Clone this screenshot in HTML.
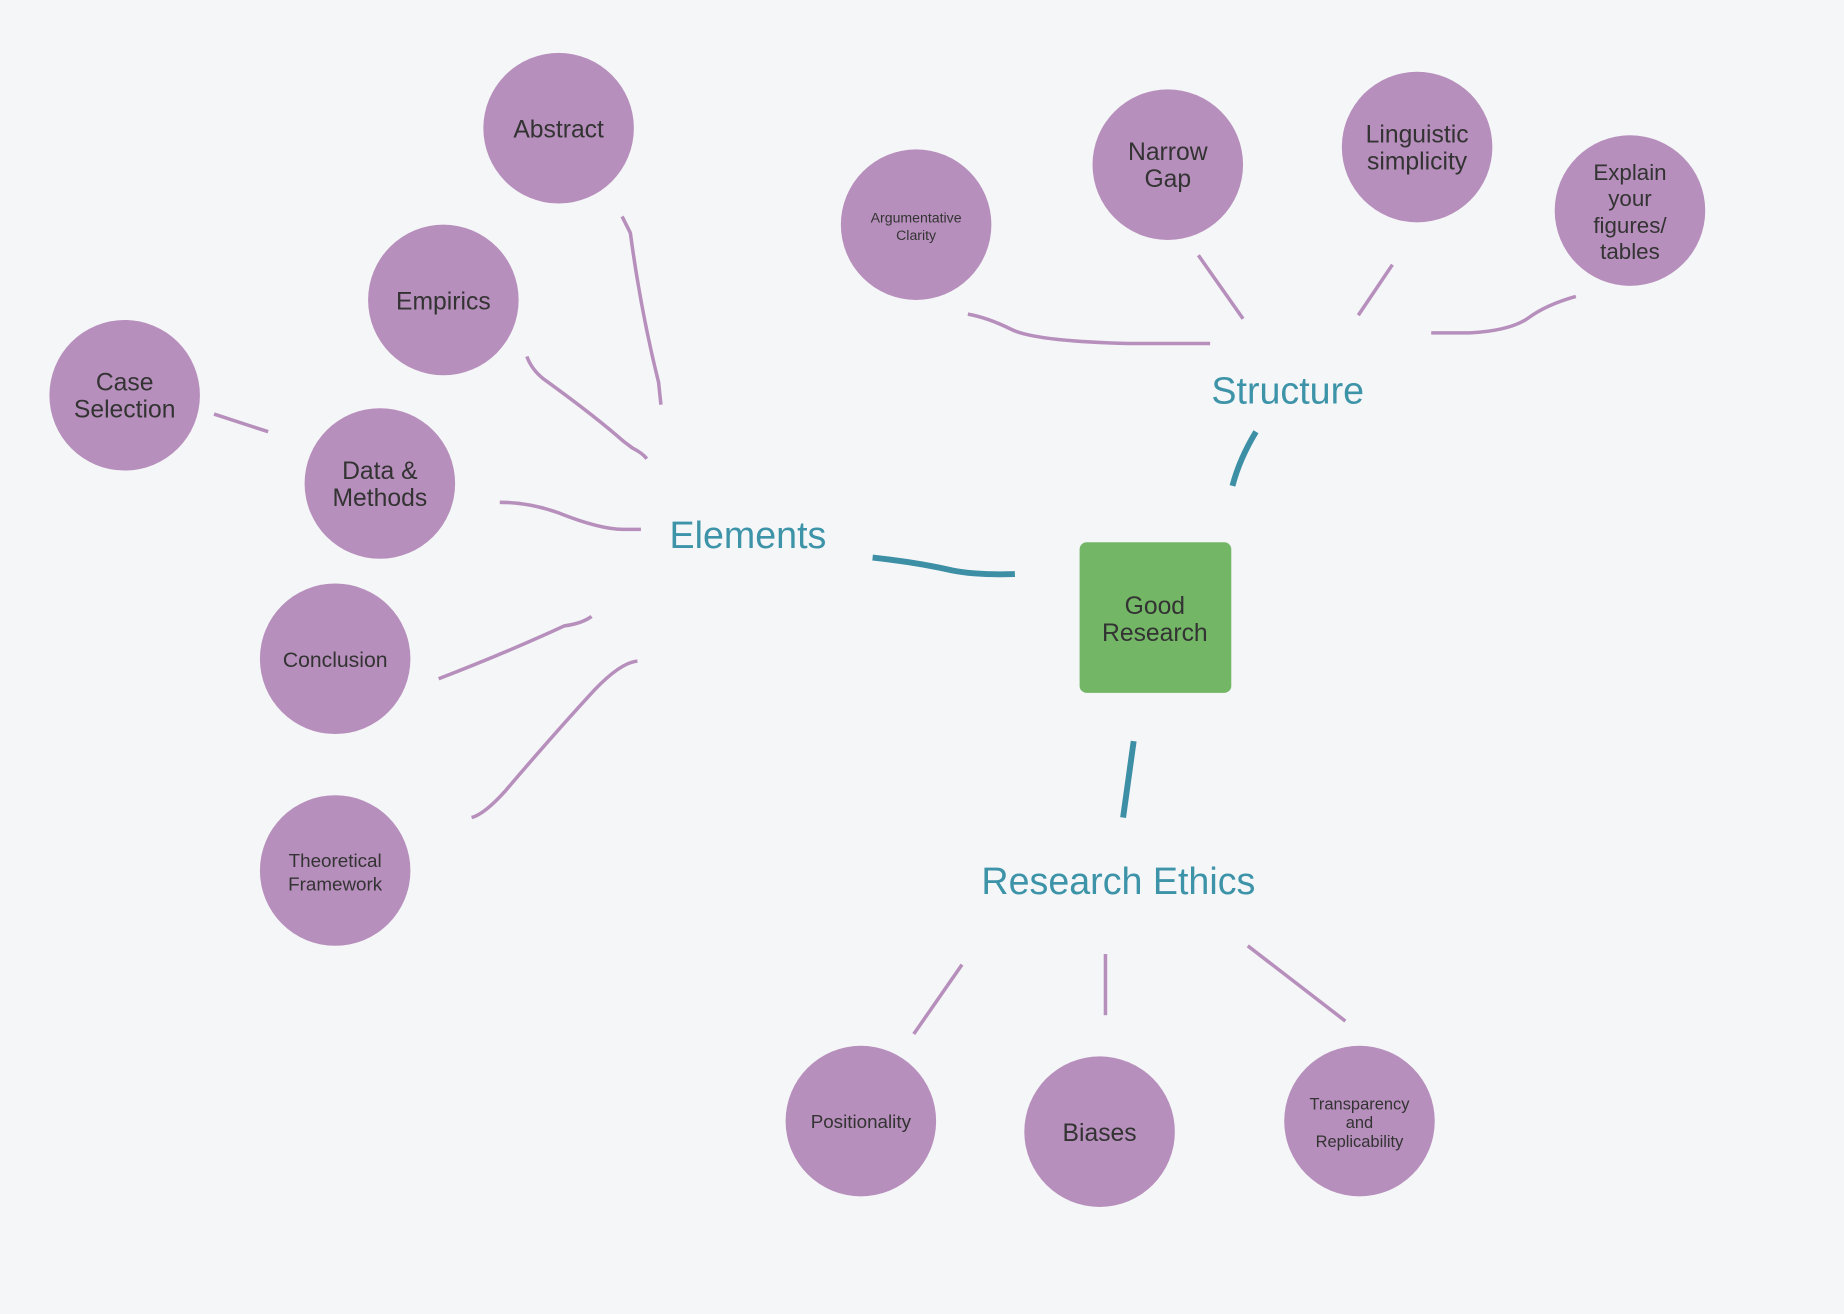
<!DOCTYPE html>
<html><head><style>
html,body{margin:0;padding:0;background:#f5f6f8;}
svg{display:block}
.c{fill:#b78fbc}
.t{font-family:"Liberation Sans",sans-serif;fill:#333;text-anchor:middle}
.h{font-family:"Liberation Sans",sans-serif;fill:#3d93a8;text-anchor:middle;font-size:32px}
.l{fill:none;stroke:#b78fbc;stroke-width:3;stroke-linecap:butt}
.b{fill:none;stroke:#3d8fa5;stroke-width:5}
</style></head><body>
<svg width="1844" height="1314" viewBox="0 0 1568 1117" preserveAspectRatio="none">
<rect width="1568" height="1117" fill="#f5f6f8"/>
<!-- connectors -->
<path class="l" d="M529 184 L536 198 Q545 265 560 325 L562 344"/>
<path class="l" d="M448 303 Q452 314 462 322 Q505 353 530 375 L538 381 Q546 385 550 390"/>
<path class="l" d="M182 352 L228 367"/>
<path class="l" d="M425 427 Q450 427 475 436 Q510 450 530 450 L545 450"/>
<path class="l" d="M373 577 Q430 555 480 532 Q495 530 503 524"/>
<path class="l" d="M401 695 Q412 692 430 672 Q470 625 505 587 Q528 563 542 562"/>
<path class="l" d="M823 267 Q840 270 860 280 Q880 290 960 292 L1029 292"/>
<path class="l" d="M1019 217 L1057 271"/>
<path class="l" d="M1184 225 L1155 268"/>
<path class="l" d="M1217 283 L1250 283 Q1285 281 1300 270 Q1315 259 1340 252"/>
<path class="l" d="M818 820 L777 879"/>
<path class="l" d="M940 811 L940 863"/>
<path class="l" d="M1061 804 L1144 868"/>
<path class="b" d="M742 474 Q780 478 810 485 Q830 489 863 488"/>
<path class="b" d="M1048 413 Q1054 390 1068 367"/>
<path class="b" d="M964 630 L955 695"/>
<!-- center -->
<rect x="918" y="461" width="129" height="128" rx="6" fill="#73b666"/>
<text class="t" font-size="21" x="982" y="522">Good</text>
<text class="t" font-size="21" x="982" y="545">Research</text>
<!-- headings -->
<text class="h" x="636" y="466">Elements</text>
<text class="h" x="1095" y="343">Structure</text>
<text class="h" x="951" y="760">Research Ethics</text>
<!-- circles -->
<circle class="c" cx="475" cy="109" r="64"/><text class="t" font-size="21" x="475" y="117">Abstract</text>
<circle class="c" cx="377" cy="255" r="64"/><text class="t" font-size="21" x="377" y="263">Empirics</text>
<circle class="c" cx="106" cy="336" r="64"/><text class="t" font-size="21" x="106" y="332">Case</text><text class="t" font-size="21" x="106" y="355">Selection</text>
<circle class="c" cx="323" cy="411" r="64"/><text class="t" font-size="21" x="323" y="407">Data &amp;</text><text class="t" font-size="21" x="323" y="430">Methods</text>
<circle class="c" cx="285" cy="560" r="64"/><text class="t" font-size="18" x="285" y="567">Conclusion</text>
<circle class="c" cx="285" cy="740" r="64"/><text class="t" font-size="16" x="285" y="737">Theoretical</text><text class="t" font-size="16" x="285" y="757">Framework</text>
<circle class="c" cx="779" cy="191" r="64"/><text class="t" font-size="12" x="779" y="189">Argumentative</text><text class="t" font-size="12" x="779" y="204">Clarity</text>
<circle class="c" cx="993" cy="140" r="64"/><text class="t" font-size="21" x="993" y="136">Narrow</text><text class="t" font-size="21" x="993" y="159">Gap</text>
<circle class="c" cx="1205" cy="125" r="64"/><text class="t" font-size="21" x="1205" y="121">Linguistic</text><text class="t" font-size="21" x="1205" y="144">simplicity</text>
<circle class="c" cx="1386" cy="179" r="64"/><text class="t" font-size="19" x="1386" y="153">Explain</text><text class="t" font-size="19" x="1386" y="175">your</text><text class="t" font-size="19" x="1386" y="198">figures/</text><text class="t" font-size="19" x="1386" y="220">tables</text>
<circle class="c" cx="732" cy="953" r="64"/><text class="t" font-size="16" x="732" y="959">Positionality</text>
<circle class="c" cx="935" cy="962" r="64"/><text class="t" font-size="21" x="935" y="970">Biases</text>
<circle class="c" cx="1156" cy="953" r="64"/><text class="t" font-size="14" x="1156" y="943">Transparency</text><text class="t" font-size="14" x="1156" y="959">and</text><text class="t" font-size="14" x="1156" y="975">Replicability</text>
</svg>
</body></html>
